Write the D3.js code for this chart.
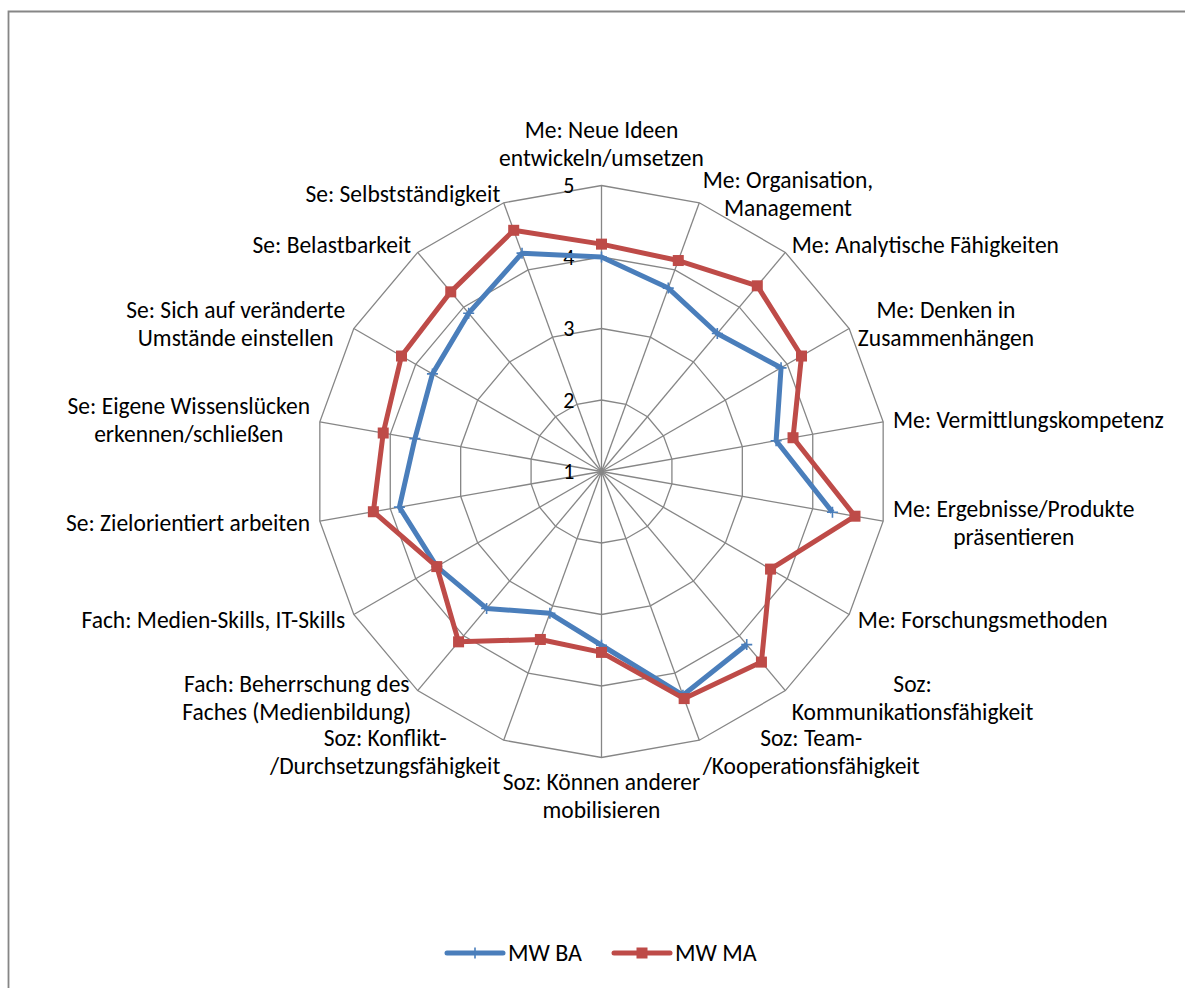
<!DOCTYPE html>
<html>
<head>
<meta charset="utf-8">
<script src="https://cdn.jsdelivr.net/npm/d3@7"></script>
<style>
  html, body { margin: 0; padding: 0; background: #fff; }
  svg text { font-family: Calibri, Carlito, Lato, sans-serif; fill: #000; }
</style>
</head>
<body>
<div id="chart"></div>
<script>
// categories (line breaks as in the original chart)
var categories = [
  "Me: Neue Ideen\nentwickeln/umsetzen",
  "Me: Organisation,\nManagement",
  "Me: Analytische Fähigkeiten",
  "Me: Denken in\nZusammenhängen",
  "Me: Vermittlungskompetenz",
  "Me: Ergebnisse/Produkte\npräsentieren",
  "Me: Forschungsmethoden",
  "Soz:\nKommunikationsfähigkeit",
  "Soz: Team-\n/Kooperationsfähigkeit",
  "Soz: Können anderer\nmobilisieren",
  "Soz: Konflikt-\n/Durchsetzungsfähigkeit",
  "Fach: Beherrschung des\nFaches (Medienbildung)",
  "Fach: Medien-Skills, IT-Skills",
  "Se: Zielorientiert arbeiten",
  "Se: Eigene Wissenslücken\nerkennen/schließen",
  "Se: Sich auf veränderte\nUmstände einstellen",
  "Se: Belastbarkeit",
  "Se: Selbstständigkeit"
];

// series values (MW BA has no value for Forschungsmethoden)
var mwBA = [4.00, 3.73, 3.52, 3.90, 3.48, 4.28, null, 4.16, 4.33, 3.43, 3.11, 3.50, 3.66, 3.87, 3.65, 3.73, 3.89, 4.25];
var mwMA = [4.18, 4.14, 4.39, 4.23, 3.72, 4.60, 3.73, 4.48, 4.38, 3.53, 3.50, 4.11, 3.66, 4.24, 4.10, 4.23, 4.28, 4.59];

var seriesNames = ["MW BA", "MW MA"];
var ticks = [1, 2, 3, 4, 5];

var width = 1185, height = 988;
var center = { x: 601.5, y: 471.5 };
var outerR = 286;

var colors = { "MW BA": "#4a7ebb", "MW MA": "#be4b48" };
var gridColor = "#868686";
var fontSize = 23.5;

var svg = d3.select("#chart")
  .append("svg")
  .attr("width", width)
  .attr("height", height);

// chart border (only left and top edges inside the picture)
svg.append("path")
  .attr("d", "M8.5," + (height + 5) + "V11.5H" + (width + 5))
  .attr("fill", "none")
  .attr("stroke", gridColor)
  .attr("stroke-width", 1.8);

var g = svg.append("g")
  .attr("transform", "translate(" + center.x + "," + center.y + ")");

var r = d3.scaleLinear().domain([1, 5]).range([0, outerR]);
var angle = d3.scaleLinear().domain([0, categories.length]).range([0, 2 * Math.PI]);

function px(a, rad) { return rad * Math.sin(a); }
function py(a, rad) { return -rad * Math.cos(a); }

// rings
var ringLine = d3.lineRadial()
  .angle(function(d, i) { return angle(i); })
  .radius(function(d) { return r(d); })
  .curve(d3.curveLinearClosed);

ticks.filter(function(t) { return t > 1; }).forEach(function(t) {
  g.append("path")
    .attr("d", ringLine(categories.map(function() { return t; })))
    .attr("fill", "none")
    .attr("stroke", gridColor)
    .attr("stroke-width", 1.3);
});

// spokes
g.selectAll(".spoke")
  .data(categories)
  .enter()
  .append("line")
  .attr("class", "spoke")
  .attr("x1", 0).attr("y1", 0)
  .attr("x2", function(d, i) { return px(angle(i), r(5)); })
  .attr("y2", function(d, i) { return py(angle(i), r(5)); })
  .attr("stroke", gridColor)
  .attr("stroke-width", 1.3);

// tick labels
g.selectAll(".tick-label")
  .data(ticks)
  .enter()
  .append("text")
  .attr("class", "tick-label")
  .attr("x", -27)
  .attr("y", function(d) { return -r(d); })
  .attr("dy", "0.35em")
  .attr("text-anchor", "end")
  .style("font-size", "22px")
  .text(function(d) { return d; });

// category labels
var pad = 10;
var lineH = 28;
categories.forEach(function(c, i) {
  var a = angle(i);
  var s = Math.sin(a), co = Math.cos(a);
  var x = px(a, r(5) + pad), y = py(a, r(5) + pad);
  var lines = c.split("\n");
  var anchor = Math.abs(s) < 0.01 ? "middle" : (s > 0 ? "start" : "end");
  var blockH = lines.length * lineH;
  var top;
  if (Math.abs(s) < 0.01 && co > 0) top = y - blockH - 4;
  else if (Math.abs(s) < 0.01 && co < 0) top = y;
  else top = y - blockH / 2 + (co < -0.9 ? 2 : 0);

  var t = g.append("text")
    .attr("class", "cat-label")
    .attr("text-anchor", anchor)
    .style("font-size", fontSize + "px");
  // multi-line labels are centred on their own block
  var w = 0;
  var spans = lines.map(function(l, k) {
    return t.append("tspan")
      .attr("y", top + lineH * k + lineH / 2)
      .attr("dy", "0.35em")
      .text(l);
  });
  if (lines.length > 1 && anchor !== "middle") {
    spans.forEach(function(sp) { w = Math.max(w, sp.node().getComputedTextLength()); });
    var cx = anchor === "start" ? x + w / 2 : x - w / 2;
    t.attr("text-anchor", "middle");
    spans.forEach(function(sp) { sp.attr("x", cx); });
  } else {
    spans.forEach(function(sp) { sp.attr("x", x); });
  }
});

// series lines
function seriesPath(values) {
  var pts = values.map(function(v, i) { return { v: v, i: i }; });
  var gap = values.indexOf(null);
  var line = d3.lineRadial()
    .angle(function(d) { return angle(d.i); })
    .radius(function(d) { return r(d.v); })
    .defined(function(d) { return d.v != null; });
  if (gap < 0) return line.curve(d3.curveLinearClosed)(pts);
  var ordered = pts.slice(gap + 1).concat(pts.slice(0, gap));
  return line.curve(d3.curveLinear)(ordered);
}

var series = [
  { name: seriesNames[0], values: mwBA },
  { name: seriesNames[1], values: mwMA }
];

series.forEach(function(s) {
  g.append("path")
    .attr("d", seriesPath(s.values))
    .attr("fill", "none")
    .attr("stroke", colors[s.name])
    .attr("stroke-width", 5)
    .attr("stroke-linejoin", "round");

  var pts = s.values
    .map(function(v, i) { return { v: v, i: i }; })
    .filter(function(d) { return d.v != null; });

  if (s.name === "MW BA") {
    g.selectAll(".mk-ba")
      .data(pts)
      .enter()
      .append("path")
      .attr("class", "mk-ba")
      .attr("transform", function(d) {
        return "translate(" + px(angle(d.i), r(d.v)) + "," + py(angle(d.i), r(d.v)) + ")";
      })
      .attr("d", "M-5.5,0H5.5M0,-5.5V5.5")
      .attr("stroke", colors[s.name])
      .attr("stroke-width", 1.6);
  } else {
    g.selectAll(".mk-ma")
      .data(pts)
      .enter()
      .append("rect")
      .attr("class", "mk-ma")
      .attr("x", function(d) { return px(angle(d.i), r(d.v)) - 5.5; })
      .attr("y", function(d) { return py(angle(d.i), r(d.v)) - 5.5; })
      .attr("width", 11)
      .attr("height", 11)
      .attr("fill", colors[s.name]);
  }
});

// legend
var legend = svg.append("g").attr("transform", "translate(447,953)");
var legendX = d3.scalePoint().domain(seriesNames).range([0, 167]);

seriesNames.forEach(function(n) {
  var lg = legend.append("g").attr("transform", "translate(" + legendX(n) + ",0)");
  lg.append("line")
    .attr("x1", 0).attr("x2", 56)
    .attr("stroke", colors[n])
    .attr("stroke-width", 5)
    .attr("stroke-linecap", "round");
  if (n === "MW BA") {
    lg.append("path")
      .attr("d", "M28,-5.5V5.5")
      .attr("stroke", colors[n])
      .attr("stroke-width", 1.6);
  } else {
    lg.append("rect")
      .attr("x", 22.5).attr("y", -5.5)
      .attr("width", 11).attr("height", 11)
      .attr("fill", colors[n]);
  }
  lg.append("text")
    .attr("x", 61)
    .attr("y", 0)
    .attr("dy", "0.35em")
    .style("font-size", "24px")
    .text(n);
});
</script>
</body>
</html>
